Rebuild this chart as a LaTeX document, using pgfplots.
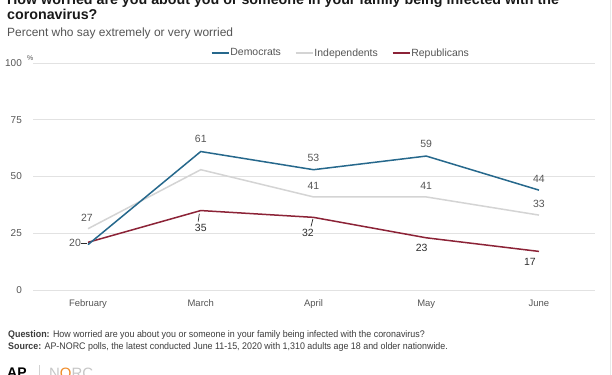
\documentclass[border=0pt]{standalone}
\usepackage{pgfplots}
\pgfplotsset{compat=1.18}
\usepackage{fontspec}
\setmainfont{Liberation Sans}
\newfontfamily\footfam[FakeStretch=0.93]{Liberation Sans}
\definecolor{demc}{RGB}{38,104,140}
\definecolor{indc}{RGB}{212,212,212}
\definecolor{repc}{RGB}{140,35,55}
\definecolor{labc}{RGB}{85,85,85}
\definecolor{darklab}{RGB}{45,45,45}
\definecolor{gridc}{RGB}{226,226,226}
\definecolor{footc}{RGB}{60,60,60}
\definecolor{norcorange}{RGB}{240,140,40}
\begin{document}
\begin{tikzpicture}[x=1bp,y=1bp]
\useasboundingbox (0,0) rectangle (612,374);
\clip (0,0) rectangle (612,374);
\fill[white] (0,0) rectangle (612,374);
\draw[gray!18] (610.5,-2) -- (610.5,376);
% titles
\node[anchor=base west, inner sep=0pt, font=\fontsize{14.3}{16}\selectfont\bfseries, text=black!90] at (7,370) {How worried are you about you or someone in your family being infected with the};
\node[anchor=base west, inner sep=0pt, font=\fontsize{14.3}{16}\selectfont\bfseries, text=black!90] at (7,354.5) {coronavirus?};
\node[anchor=base west, inner sep=0pt, font=\fontsize{12}{14}\selectfont, text=labc] at (7,338) {Percent who say extremely or very worried};
\begin{axis}[
  at={(33bp,84bp)}, anchor=south west, scale only axis,
  width=562bp, height=227bp,
  xmin=-0.488, xmax=4.497, ymin=0, ymax=100,
  axis line style={draw=none}, tick style={draw=none},
  ytick={0,25,50,75,100},
  yticklabels={0,25,50,75,100},
  ymajorgrids, grid style={draw=gridc, line width=0.9bp},
  xtick={0,1,2,3,4},
  xticklabels={February,March,April,May,June},
  xticklabel style={font=\fontsize{9.5}{11}\selectfont, text=labc, anchor=base, inner sep=0pt, yshift=-16bp},
  yticklabel style={font=\fontsize{10}{12}\selectfont, text=labc, anchor=east, inner sep=0pt, xshift=-11bp},
  /pgf/number format/assume math mode=true,
  clip=false,
  legend columns=3,
  legend style={at={(0.547,1)}, anchor=center, yshift=10bp, draw=none, fill=none,
    font=\fontsize{10.5}{12}\selectfont, text=labc, inner sep=0pt,
    nodes={inner sep=1bp},
    /tikz/every even column/.append style={column sep=13bp}},
  legend image code/.code={\draw[#1] (0bp,0bp) -- (17bp,0bp);},
]
\addlegendimage{demc, line width=1.5bp}
\addlegendentry{Democrats}
\addlegendimage{indc, line width=1.5bp}
\addlegendentry{Independents}
\addlegendimage{repc, line width=1.5bp}
\addlegendentry{Republicans}
\addplot[indc, line width=1.5bp, forget plot] coordinates {(0,27) (1,53) (2,41) (3,41) (4,33)};
\addplot[repc, line width=1.5bp, forget plot] coordinates {(0,21) (1,35) (2,32) (3,23) (4,17)};
\addplot[demc, line width=1.5bp, forget plot] coordinates {(0,20) (1,61) (2,53) (3,59) (4,44)};
% data labels
\begin{scope}[every node/.style={font=\fontsize{10.5}{12}\selectfont, inner sep=0pt, text=labc}]
\node at (axis cs:1,66.5) {61};
\node at (axis cs:2,58.1) {53};
\node at (axis cs:3,64.3) {59};
\node at (axis cs:4,48.9) {44};
\node at (axis cs:-0.01,31.7) {27};
\node at (axis cs:2,45.8) {41};
\node at (axis cs:3,45.8) {41};
\node at (axis cs:4,37.9) {33};
\node at (axis cs:-0.115,20.7) {20};
\node[text=darklab] at (axis cs:1,27.3) {35};
\node[text=darklab] at (axis cs:1.95,25.1) {32};
\node[text=darklab] at (axis cs:2.96,18.5) {23};
\node[text=darklab] at (axis cs:3.92,12.3) {17};
\end{scope}
\draw[darklab, line width=0.7bp] (axis cs:-0.065,20.6) -- (axis cs:-0.01,20.6);
\draw[darklab, line width=0.7bp] (axis cs:0.987,33.6) -- (axis cs:0.977,30.1);
\draw[darklab, line width=0.7bp] (axis cs:1.995,31.3) -- (axis cs:1.978,28.0);
\end{axis}
% % sign next to 100
\node[anchor=base west, inner sep=0pt, font=\fontsize{7}{8}\selectfont, text=labc] at (27,313.5) {\%};
% footer
\node[anchor=base west, inner sep=0pt, font=\footfam\fontsize{9.6}{11}\selectfont, text=footc] at (8,36.5) {\textbf{Question:} How worried are you about you or someone in your family being infected with the coronavirus?};
\node[anchor=base west, inner sep=0pt, font=\footfam\fontsize{9.6}{11}\selectfont, text=footc] at (8,24.5) {\textbf{Source:} AP-NORC polls, the latest conducted June 11-15, 2020 with 1,310 adults age 18 and older nationwide.};
% logo
\node[anchor=base west, inner sep=0pt, font=\fontsize{14}{16}\selectfont\bfseries, text=black] at (7,-3) {AP};
\draw[gray!35, line width=0.6bp] (39,-1) -- (39,9);
\node[anchor=base west, inner sep=0pt, font=\fontsize{15}{17}\selectfont, text=gray!45] at (49,-4.5) {N\textcolor{norcorange}{O}RC};
\end{tikzpicture}
\end{document}
